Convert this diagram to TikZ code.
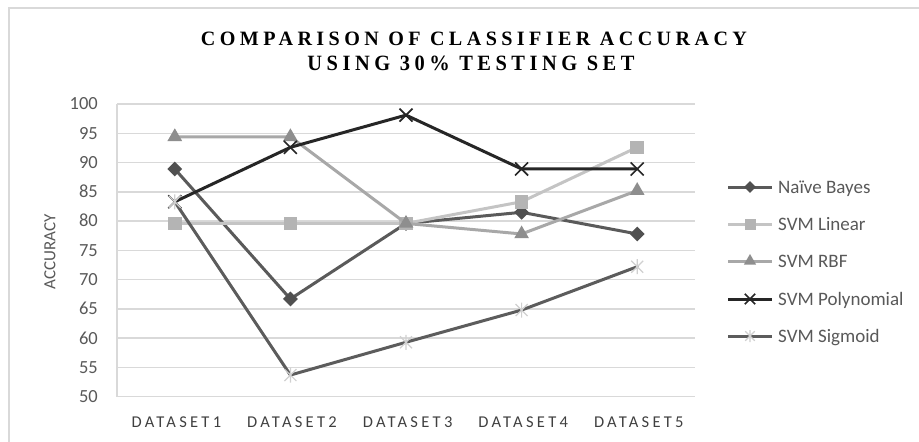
\documentclass[tikz,border=0pt]{standalone}
\usepackage{fontspec}
\setmainfont{Carlito}
\newfontfamily\titlefont[LetterSpace=22]{Liberation Serif}
\newfontfamily\catfont[LetterSpace=20]{Carlito}
\usetikzlibrary{shapes.geometric}

\definecolor{gridc}{HTML}{D9D9D9}
\definecolor{labc}{HTML}{595959}
\definecolor{catc}{HTML}{404040}
\definecolor{nbc}{HTML}{5A5A5A}
\definecolor{nbm}{HTML}{505050}
\definecolor{linc}{HTML}{C4C4C4}
\definecolor{linm}{HTML}{B4B4B4}
\definecolor{rbfc}{HTML}{A8A8A8}
\definecolor{rbfm}{HTML}{8E8E8E}
\definecolor{polc}{HTML}{262626}
\definecolor{sigc}{HTML}{5C5C5C}
\definecolor{sigm}{HTML}{D0D0D0}

% data point of series #1: values #2 at the five datasets
\newcommand\defseries[2]{%
  \foreach \v [count=\i] in {#2} {%
    \coordinate (#1\i) at ({59.2+115.6*\i},{104+(100-\v)*5.854});}}

\tikzset{
  serie/.style={line width=3pt, line join=round, line cap=round},
  mkdiamond/.style={diamond, fill=nbm, inner sep=0pt, minimum size=15pt},
  mksquare/.style={rectangle, fill=linm, inner sep=0pt, minimum size=13.5pt},
  mktri/.style={regular polygon, regular polygon sides=3, fill=rbfm, inner sep=0pt, minimum size=17pt},
  pics/mkcross/.style={code={\draw[polc, line width=1.6pt] (-6.5,-6.5) -- (6.5,6.5) (-6.5,6.5) -- (6.5,-6.5);}},
  pics/mkstar/.style={code={\draw[sigm, line width=1.2pt] (-6,-6) -- (6,6) (-6,6) -- (6,-6) (0,-7.5) -- (0,7.5);}},
  ticklab/.style={text=labc, anchor=base east, inner sep=0pt, font=\fontsize{18.5}{22}\selectfont},
  catlab/.style={text=catc, anchor=base, inner sep=0pt, font=\catfont\fontsize{16.5}{20}\selectfont},
  leglab/.style={text=labc, anchor=base west, inner sep=0pt, font=\fontsize{19}{23}\selectfont},
  titlelab/.style={anchor=base, inner sep=0pt, font=\titlefont\bfseries\fontsize{21}{24}\selectfont}
}

\begin{document}
\begin{tikzpicture}[x=1pt,y=-1pt]
\useasboundingbox (0,0) rectangle (919,442);
\fill[white] (0,0) rectangle (919,442);

% chart frame
\draw[gridc, line width=1.5pt] (9,442) -- (9,8) -- (919,8);

% title
\node[titlelab] (title1) at (474,45.5) {\resizebox{546pt}{13.5pt}{COMPARISON OF CLASSIFIER ACCURACY}};
\node[titlelab] (title2) at (471,70.5) {\resizebox{327pt}{14.5pt}{USING 30\% TESTING SET}};

% gridlines and value axis labels
\foreach \v in {50,55,...,100} {
  \draw[gridc, line width=1.5pt] (117,{104+(100-\v)*5.854}) -- (695,{104+(100-\v)*5.854});
  \node[ticklab] (tick\v) at (98,{104+(100-\v)*5.854+5.85}) {\v};
}
\draw[gridc, line width=1.5pt] (117,104) -- (117,396.7);

\node[text=labc, rotate=90, inner sep=0pt, font=\fontsize{17}{20}\selectfont] (ylab) at (50,252) {ACCURACY};

% category labels
\foreach \i in {1,...,5} {
  \node[catlab] (cat\i) at ({59.2+115.6*\i+1.6},427) {DATASET\i};
}

% data
\defseries{nb}{88.9,66.7,79.6,81.5,77.8}
\defseries{lin}{79.6,79.6,79.6,83.3,92.6}
\defseries{rbf}{94.4,94.4,79.6,77.8,85.2}
\defseries{pol}{83.3,92.6,98.1,88.9,88.9}
\defseries{sig}{83.3,53.7,59.3,64.8,72.2}

% Naive Bayes
\draw[serie, nbc] (nb1) -- (nb2) -- (nb3) -- (nb4) -- (nb5);
\foreach \i in {1,...,5} \node[mkdiamond] (nbk\i) at (nb\i) {};
% SVM Linear
\draw[serie, linc] (lin1) -- (lin2) -- (lin3) -- (lin4) -- (lin5);
\foreach \i in {1,...,5} \node[mksquare] (link\i) at (lin\i) {};
% SVM RBF
\draw[serie, rbfc] (rbf1) -- (rbf2) -- (rbf3) -- (rbf4) -- (rbf5);
\foreach \i in {1,...,5} \node[mktri] (rbfk\i) at (rbf\i) {};
% SVM Polynomial
\draw[serie, polc] (pol1) -- (pol2) -- (pol3) -- (pol4) -- (pol5);
\foreach \i in {1,...,5} \pic at (pol\i) {mkcross};
% SVM Sigmoid
\draw[serie, sigc] (sig1) -- (sig2) -- (sig3) -- (sig4) -- (sig5);
\foreach \i in {1,...,5} \pic at (sig\i) {mkstar};

% legend
\foreach \i/\yy in {1/187,2/224,3/261,4/299,5/336} {
  \coordinate (la\i) at (728,\yy);
  \coordinate (lm\i) at (750,\yy);
  \coordinate (lb\i) at (772,\yy);
  \coordinate (lt\i) at (778,{\yy+6.1});
}
\draw[serie, line cap=butt, nbc] (la1) -- (lb1);
\node[mkdiamond, minimum size=12pt] (lk1) at (lm1) {};
\node[leglab] (ltx1) at (lt1) {Naïve Bayes};

\draw[serie, line cap=butt, linc] (la2) -- (lb2);
\node[mksquare, minimum size=11pt] (lk2) at (lm2) {};
\node[leglab] (ltx2) at (lt2) {SVM Linear};

\draw[serie, line cap=butt, rbfc] (la3) -- (lb3);
\node[mktri, minimum size=14pt] (lk3) at (lm3) {};
\node[leglab] (ltx3) at (lt3) {SVM RBF};

\draw[serie, line cap=butt, polc] (la4) -- (lb4);
\pic[scale=0.8] at (lm4) {mkcross};
\node[leglab] (ltx4) at (lt4) {SVM Polynomial};

\draw[serie, line cap=butt, sigc] (la5) -- (lb5);
\pic[scale=0.8] at (lm5) {mkstar};
\node[leglab] (ltx5) at (lt5) {SVM Sigmoid};
\end{tikzpicture}
\end{document}
